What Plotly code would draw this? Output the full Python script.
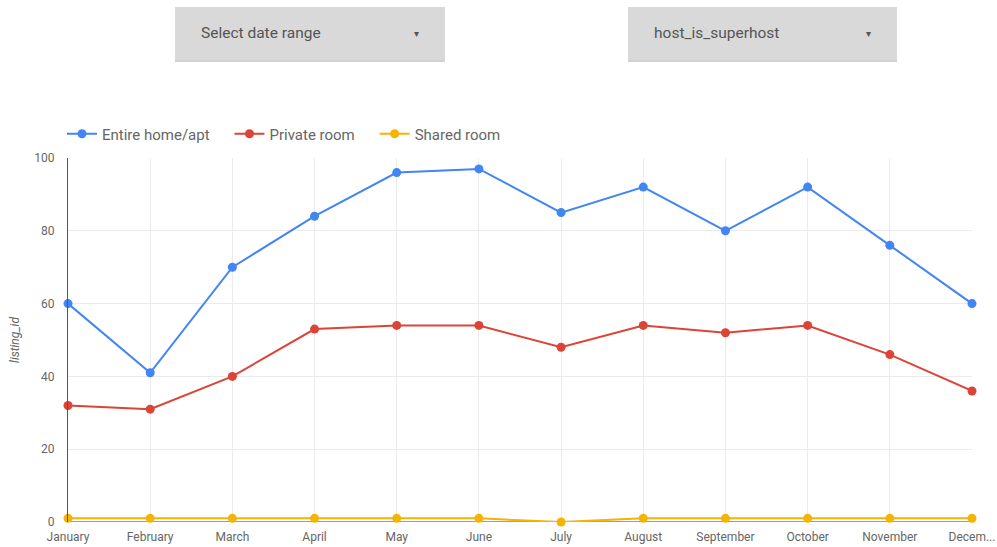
import plotly.graph_objects as go

months = ["January", "February", "March", "April", "May", "June", "July",
          "August", "September", "October", "November", "December"]
month_labels = months[:-1] + ["Decem..."]
entire_home = [60, 41, 70, 84, 96, 97, 85, 92, 80, 92, 76, 60]
private_room = [32, 31, 40, 53, 54, 54, 48, 54, 52, 54, 46, 36]
shared_room = [1, 1, 1, 1, 1, 1, 0, 1, 1, 1, 1, 1]
series_names = ["Entire home/apt", "Private room", "Shared room"]
colors = ["#4285F4", "#DB4437", "#F4B400"]
y_ticks = [0, 20, 40, 60, 80, 100]

W, H = 997, 547
L, R, T, B = 68, 25, 158, 25
PW, PH = W - L - R, H - T - B

def px(x):
    return (x - L) / PW

def py(y):
    return (H - B - y) / PH

PAD = "\u00a0" * 4

fig = go.Figure()
for name, vals, c in zip(series_names, [entire_home, private_room, shared_room], colors):
    fig.add_trace(go.Scatter(
        x=months, y=vals, name=name + PAD, mode="lines+markers",
        line=dict(color=c, width=2), marker=dict(color=c, size=9),
        cliponaxis=False,
    ))

shapes = []
annotations = []
for (x0, x1, label) in [(175, 445, "Select date range"), (628, 897, "host_is_superhost")]:
    shapes.append(dict(type="rect", xref="paper", yref="paper",
                       x0=px(x0), x1=px(x1), y0=py(62), y1=py(9),
                       fillcolor="rgba(0,0,0,0.18)", line=dict(width=0), layer="below"))
    shapes.append(dict(type="rect", xref="paper", yref="paper",
                       x0=px(x0), x1=px(x1), y0=py(60), y1=py(7),
                       fillcolor="#d9d9d9", line=dict(width=0), layer="below"))
    annotations.append(dict(xref="paper", yref="paper", x=px(x0 + 24), y=py(33),
                            text=label, showarrow=False, xanchor="left", yanchor="middle",
                            font=dict(family="Roboto", size=15.5, color="#555555")))
    annotations.append(dict(xref="paper", yref="paper", x=px(x1 - 29), y=py(33),
                            text="▾", showarrow=False, xanchor="center", yanchor="middle",
                            font=dict(family="Roboto", size=10, color="#555555")))

fig.update_layout(
    width=W, height=H,
    margin=dict(l=L, r=R, t=T, b=B, pad=0),
    paper_bgcolor="white", plot_bgcolor="white",
    font=dict(family="Roboto", color="#666666", size=12),
    shapes=shapes, annotations=annotations,
    showlegend=True,
    legend=dict(orientation="h", x=px(62), xanchor="left", y=py(134), yanchor="middle",
                font=dict(family="Roboto", size=15, color="#666666"),
                itemwidth=30, tracegroupgap=0, bgcolor="rgba(0,0,0,0)"),
    xaxis=dict(type="category", range=[0, 11], tickvals=months, ticktext=month_labels,
               automargin=False,
               showgrid=True, gridcolor="#ebebeb", gridwidth=1,
               showline=False, zeroline=False, ticks="", ticklen=0,
               ticklabelstandoff=6,
               tickfont=dict(size=12, color="#666666")),
    yaxis=dict(range=[0, 100], tickvals=y_ticks, showgrid=True, gridcolor="#ebebeb",
               automargin=False,
               zeroline=False, showline=True, linecolor="#555555", linewidth=1,
               ticks="", ticklabelstandoff=10, tickfont=dict(size=12, color="#666666"),
               title=dict(text="<i>listing_id</i>", font=dict(size=12, color="#666666"), standoff=12)),
)
fig.add_shape(type="line", xref="paper", yref="y", x0=0, x1=1, y0=0, y1=0,
              line=dict(color="#9e9e9e", width=2), layer="below")

fig.write_html("out.html", config={"displayModeBar": False},
               post_script="document.body.style.margin='0';document.body.style.overflow='hidden';")
